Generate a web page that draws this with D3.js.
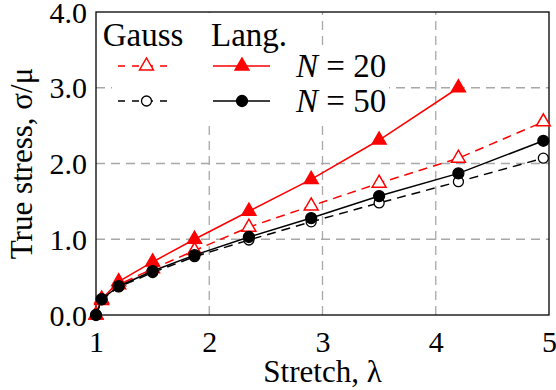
<!DOCTYPE html>
<html>
<head>
<meta charset="utf-8">
<script src="https://cdn.jsdelivr.net/npm/d3@7"></script>
<style>
  html, body { margin: 0; padding: 0; background: #fff; }
  #chart text { font-family: "Liberation Serif", "Times New Roman", Tinos, serif !important; }
</style>
</head>
<body>
<svg id="chart" width="556" height="390" font-family="Liberation Serif"></svg>
<script>
// Stretch values where stress was evaluated
const stretch = [1, 1.05, 1.2, 1.5, 1.87, 2.35, 2.9, 3.5, 4.2, 4.95];
// Normalised true stress sigma/mu for each model and chain length
const gaussN20 = [0, 0.19, 0.40, 0.61, 0.85, 1.16, 1.44, 1.74, 2.07, 2.55];
const langN20  = [0, 0.21, 0.44, 0.70, 1.00, 1.37, 1.79, 2.31, 3.00];
const gaussN50 = [0, 0.20, 0.37, 0.56, 0.77, 0.99, 1.23, 1.48, 1.76, 2.07];
const langN50  = [0, 0.21, 0.38, 0.58, 0.79, 1.03, 1.28, 1.57, 1.87, 2.30];

const xTicks = [1, 2, 3, 4, 5];
const yTicks = [0, 1, 2, 3, 4];
const legendHeaders = ["Gauss", "Lang."];
const legendLabels = ["20", "50"];

const svg = d3.select("#chart");
const x = d3.scaleLinear().domain([1, 5]).range([96, 549]);
const y = d3.scaleLinear().domain([0, 4]).range([315, 12]);

const grid = "#a8a8a8";
const dash = "9,6";

// grid lines (inner only)
svg.append("g").selectAll("line").data(xTicks.filter(d => d > 1 && d < 5)).join("line")
  .attr("x1", d => x(d)).attr("x2", d => x(d))
  .attr("y1", y(0)).attr("y2", y(4))
  .attr("stroke", grid).attr("stroke-width", 1.3).attr("stroke-dasharray", dash);
svg.append("g").selectAll("line").data(yTicks.filter(d => d > 0 && d < 4)).join("line")
  .attr("x1", x(1)).attr("x2", x(5))
  .attr("y1", d => y(d)).attr("y2", d => y(d))
  .attr("stroke", grid).attr("stroke-width", 1.3).attr("stroke-dasharray", dash);

// legend background
svg.append("rect").attr("x", 112).attr("y", 13).attr("width", 188).attr("height", 109).attr("fill", "#fff");
svg.append("rect").attr("x", 290).attr("y", 46).attr("width", 99).attr("height", 74).attr("fill", "#fff");

// frame
svg.append("rect").attr("x", x(1)).attr("y", y(4))
  .attr("width", x(5) - x(1)).attr("height", y(0) - y(4))
  .attr("fill", "none").attr("stroke", "#000").attr("stroke-width", 1.3);

// axes with tick labels only
const xAxis = svg.append("g").attr("transform", `translate(0,${y(0)})`)
  .call(d3.axisBottom(x).tickValues(xTicks).tickSize(0).tickPadding(16).tickFormat(d3.format("d")));
const yAxis = svg.append("g").attr("transform", `translate(${x(1)},0)`)
  .call(d3.axisLeft(y).tickValues(yTicks).tickSize(0).tickPadding(9).tickFormat(d3.format(".1f")));
[xAxis, yAxis].forEach(a => {
  a.select(".domain").remove();
  a.attr("font-family", null).attr("font-size", null);
  a.selectAll("text").attr("fill", "#000").style("font-size", "30px");
});
yAxis.selectAll("text").attr("dy", "0.34em");

svg.append("text").attr("x", (x(1) + x(5)) / 2).attr("y", 382)
  .attr("text-anchor", "middle").style("font-size", "31px").text("Stretch, λ");
svg.append("text").attr("transform", `translate(32,${(y(0) + y(4)) / 2}) rotate(-90)`)
  .attr("text-anchor", "middle").style("font-size", "31px").text("True stress, σ/μ");

const triR = 8;
const triPath = `M0,${-triR}L${triR * 0.866},${triR / 2}L${-triR * 0.866},${triR / 2}Z`;

const series = [
  { vals: gaussN20, color: "#ff0000", dashed: true,  mark: "tri", fill: "#fff" },
  { vals: langN20,  color: "#ff0000", dashed: false, mark: "tri", fill: "#ff0000" },
  { vals: gaussN50, color: "#000",    dashed: true,  mark: "circ", fill: "#fff" },
  { vals: langN50,  color: "#000",    dashed: false, mark: "circ", fill: "#000" }
];

function drawMark(g, s, px, py) {
  if (s.mark === "tri") {
    g.append("path").attr("d", triPath).attr("transform", `translate(${px},${py})`)
      .attr("fill", s.fill).attr("stroke", s.color).attr("stroke-width", 1.5);
  } else {
    g.append("circle").attr("cx", px).attr("cy", py).attr("r", s.fill === "#fff" ? 5 : 5.5)
      .attr("fill", s.fill).attr("stroke", s.color).attr("stroke-width", 1.3);
  }
}

const line = d3.line().x(d => x(d[0])).y(d => y(d[1]));
series.forEach(s => {
  const pts = s.vals.map((v, i) => [stretch[i], v]);
  const g = svg.append("g");
  g.append("path").attr("d", line(pts)).attr("fill", "none")
    .attr("stroke", s.color).attr("stroke-width", 1.5)
    .attr("stroke-dasharray", s.dashed ? dash : null);
  pts.forEach(p => drawMark(g, s, x(p[0]), y(p[1])));
});

// legend
const leg = svg.append("g");
leg.selectAll("text.hdr").data(legendHeaders).join("text").attr("class", "hdr")
  .attr("x", (d, i) => [143, 249][i]).attr("y", 46).attr("text-anchor", "middle")
  .style("font-size", "33px").text(d => d);

const rows = [
  { ys: 66, gauss: series[0], lang: series[1], label: legendLabels[0] },
  { ys: 101, gauss: series[2], lang: series[3], label: legendLabels[1] }
];
rows.forEach(r => {
  [[r.gauss, 118, 172, 146.5], [r.lang, 213, 270, 242]].forEach(([s, a, b, m]) => {
    leg.append("line").attr("x1", a).attr("x2", b).attr("y1", r.ys).attr("y2", r.ys)
      .attr("stroke", s.color).attr("stroke-width", 1.5)
      .attr("stroke-dasharray", s.dashed ? "7,7" : null);
    drawMark(leg, s, m, r.ys);
  });
  const t = leg.append("text").attr("x", 296).attr("y", r.ys + 11).style("font-size", "33px");
  t.append("tspan").style("font-style", "italic").text("N");
  t.append("tspan").text(" = " + r.label);
});
</script>
</body>
</html>
